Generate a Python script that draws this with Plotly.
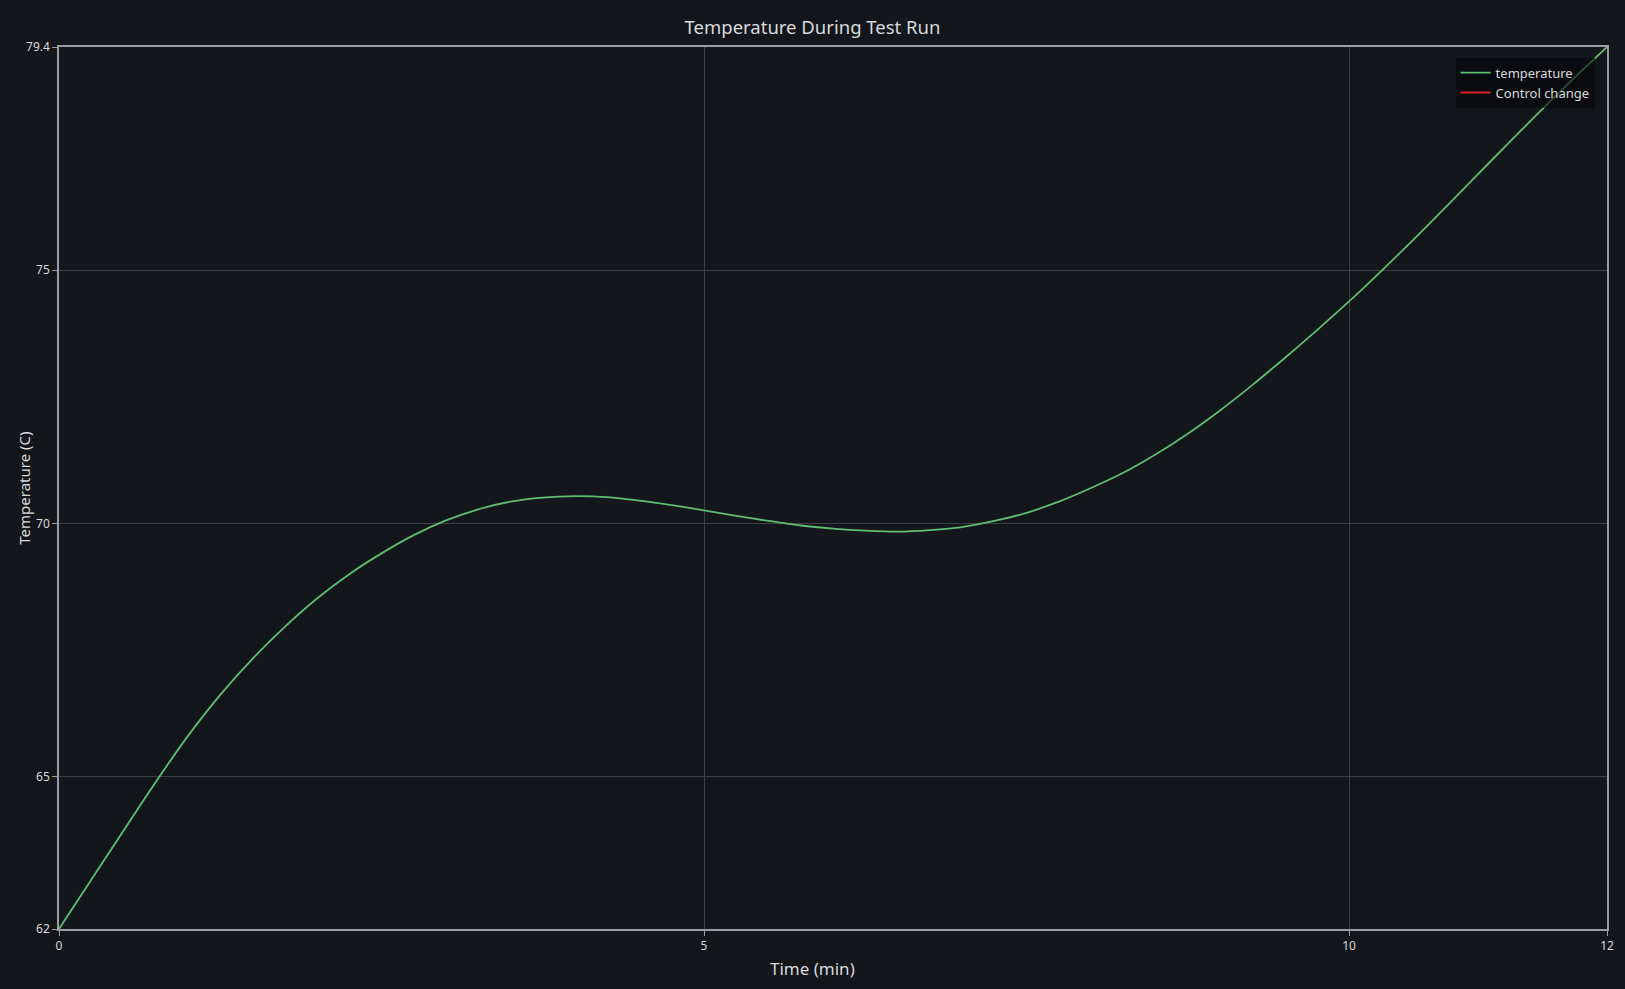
import plotly.graph_objects as go

# time in minutes, temperature in C
time_min = [0, 0.25, 0.5, 0.75, 1.0, 1.25, 1.5, 1.75, 2.0, 2.25, 2.5, 2.75,
            3.0, 3.25, 3.5, 3.75, 4.0, 4.25, 4.5, 4.75, 5.0, 5.25, 5.5, 5.75,
            6.0, 6.25, 6.5, 6.75, 7.0, 7.25, 7.5, 7.75, 8.0, 8.25, 8.5, 8.75,
            9.0, 9.25, 9.5, 9.75, 10.0, 10.25, 10.5, 10.75, 11.0, 11.25, 11.5,
            11.75, 12.0]
temperature = [62.00, 62.97, 63.94, 64.90, 65.81, 66.62, 67.33, 67.96, 68.52,
               69.00, 69.41, 69.77, 70.06, 70.28, 70.43, 70.51, 70.54, 70.52,
               70.45, 70.36, 70.26, 70.15, 70.05, 69.96, 69.90, 69.86, 69.84,
               69.87, 69.93, 70.05, 70.21, 70.43, 70.70, 71.00, 71.36, 71.77,
               72.23, 72.73, 73.26, 73.81, 74.38, 74.98, 75.60, 76.24, 76.89,
               77.54, 78.18, 78.80, 79.40]

# no control changes happened in this run
control_x = [None]
control_y = [None]

x_ticks = [0, 5, 10, 12]
y_ticks = [62, 65, 70, 75, 79.4]

BG = "#13161b"
AXIS = "#9a9ca0"
GRID = "#3d4046"
TEXT = "#d8d9db"

fig = go.Figure()
fig.add_trace(go.Scatter(x=time_min, y=temperature, mode="lines",
                         name="temperature",
                         line=dict(color="#5fbd70", width=1.8, shape="spline", smoothing=0.6)))
fig.add_trace(go.Scatter(x=control_x, y=control_y, mode="lines",
                         name="Control change",
                         line=dict(color="#d91f1f", width=2)))

axis_common = dict(showline=True, linecolor=AXIS, linewidth=1.5, mirror=True,
                   showgrid=True, gridcolor=GRID, gridwidth=1, zeroline=False,
                   ticks="outside", ticklen=5, tickcolor=AXIS,
                   tickfont=dict(size=12, color=TEXT))

fig.update_xaxes(range=[0, 12], tickvals=x_ticks, ticktext=[str(v) for v in x_ticks],
                 **axis_common)
fig.update_yaxes(range=[62, 79.4], tickvals=y_ticks, ticktext=[str(v) for v in y_ticks],
                 **axis_common)

# axis titles sit centred on the page, like the chart title
fig.add_annotation(text="Time (min)", xref="paper", yref="paper", x=0.4867, y=0,
                   yshift=-39, showarrow=False, xanchor="center", yanchor="middle",
                   font=dict(size=17, color=TEXT))
fig.add_annotation(text="Temperature (C)", xref="paper", yref="paper", x=-0.0228, y=0.5,
                   textangle=-90, showarrow=False, xanchor="center", yanchor="middle",
                   font=dict(size=15, color=TEXT))

fig.update_layout(
    width=1625, height=989,
    paper_bgcolor=BG, plot_bgcolor=BG,
    font=dict(family="Noto Sans", color=TEXT),
    title=dict(text="Temperature During Test Run", x=0.5, xanchor="center",
               y=0.972, yanchor="middle", font=dict(size=18.5, color=TEXT)),
    margin=dict(l=59, r=18, t=47, b=60),
    showlegend=True,
    legend=dict(x=0.992, y=0.988, xanchor="right", yanchor="top",
                bgcolor="rgba(5,6,8,0.6)", borderwidth=0,
                font=dict(size=13, color=TEXT), tracegroupgap=0),
)

# drop the default page margin so the figure fills the window
fig.write_html("out.html", config={"displayModeBar": False},
               post_script="document.body.style.margin='0';")
